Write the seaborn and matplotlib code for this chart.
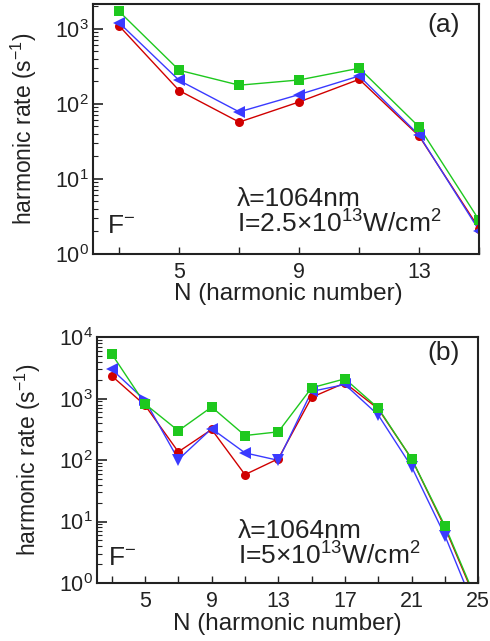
import numpy as np
import pandas as pd
import matplotlib
matplotlib.use("Agg")
import matplotlib.pyplot as plt
import seaborn as sns
from matplotlib.ticker import LogLocator, NullFormatter, FixedLocator

sns.set_theme(style="ticks")
plt.rcParams['font.family'] = ['Liberation Sans', 'DejaVu Sans']
plt.rcParams['mathtext.fontset'] = 'custom'
plt.rcParams['mathtext.rm'] = 'Liberation Sans'
plt.rcParams['mathtext.it'] = 'Liberation Sans:italic'
plt.rcParams['mathtext.bf'] = 'Liberation Sans:bold'

# ---- data: panel (a) ----
N_a = [3, 5, 7, 9, 11, 13, 15]
green_a = [1700, 280, 177, 208, 298, 49, 2.8]
red_a = [1090, 150, 57, 106, 212, 37, 2.17]
blue_a = [1200, 205, 78, 133, 235, 38, 2.04]

# ---- data: panel (b) ----
N_b = [3, 5, 7, 9, 11, 13, 15, 17, 19, 21, 23, 25]
green_b = [5350, 820, 300, 730, 251, 288, 1500, 2100, 700, 105, 8.5, 0.45]
red_b = [2350, 780, 136, 315, 58, 105, 1050, 1800, 680, 105, 8.0, 0.42]
blue_b = [3000, 940, 102, 325, 131, 99, 1310, 1700, 540, 78, 5.9, 0.28]
blue_b_markers = ['<', '>', 'v', '<', '<', 'v', '<', '<', 'v', 'v', 'v', 'v']

GREEN = '#1ec81e'
RED = '#d00000'
BLUE = '#3a3aff'
INK = '#222222'

fig = plt.figure(figsize=(4.9, 6.41), dpi=100)
ax_a = fig.add_axes([0.190, 0.604, 0.788, 0.390])
ax_b = fig.add_axes([0.198, 0.0905, 0.778, 0.3835])


def long_df(N, g, r, b):
    return pd.DataFrame({
        'N': list(N) * 3,
        'rate': list(g) + list(r) + list(b),
        'series': ['g'] * len(N) + ['r'] * len(N) + ['b'] * len(N),
    })


pal = {'g': GREEN, 'r': RED, 'b': BLUE}

for ax, N, g, r, b, xlim, ylim, labels in [
    (ax_a, N_a, green_a, red_a, blue_a, (2.13, 15.0), (1, 2150), [5, 9, 13]),
    (ax_b, N_b, green_b, red_b, blue_b, (2.12, 25.0), (1, 1e4), [5, 9, 13, 17, 21, 25]),
]:
    df = long_df(N, g, r, b)
    sns.lineplot(data=df, x='N', y='rate', hue='series', palette=pal,
                 hue_order=['r', 'b', 'g'], linewidth=1.0, legend=False, ax=ax)
    ax.set_yscale('log')
    ax.plot(N, r, 'o', color=RED, markersize=6.5, markeredgewidth=0)
    if ax is ax_a:
        ax.plot(N, b, '<', color=BLUE, markersize=8.5, markeredgewidth=0)
    else:
        for xi, yi, m in zip(N, b, blue_b_markers):
            ax.plot([xi], [yi], m, color=BLUE, markersize=8.5, markeredgewidth=0)
    ax.plot(N, g, 's', color=GREEN, markersize=6.5, markeredgewidth=0)
    ax.set_xlim(*xlim)
    ax.set_ylim(*ylim)
    odd = list(range(3, int(xlim[1]) + 1, 2))
    ax.xaxis.set_major_locator(FixedLocator(odd))
    ax.set_xticklabels([str(v) if v in labels else '' for v in odd])
    ax.yaxis.set_major_locator(LogLocator(base=10, numticks=10))
    ax.yaxis.set_minor_locator(LogLocator(base=10, subs=np.arange(2, 10), numticks=10))
    ax.yaxis.set_minor_formatter(NullFormatter())
    ax.tick_params(axis='both', which='both', direction='in', top=False, right=False,
                   labelsize=15.5, colors=INK)
    ax.tick_params(axis='y', which='major', length=7, width=1.2, pad=3)
    ax.tick_params(axis='y', which='minor', length=3.5, width=0.8)
    ax.tick_params(axis='x', which='major', length=5, width=1.0, pad=6)
    ax.tick_params(axis='x', which='minor', length=0)
    for sp in ax.spines.values():
        sp.set_visible(True)
        sp.set_linewidth(1.5)
        sp.set_color(INK)
    ax.set_xlabel('N (harmonic number)', fontsize=17.5, color=INK)
    ax.set_ylabel('harmonic rate (s$^{-1}$)', fontsize=16.5, color=INK)

ax_a.xaxis.set_label_coords(0.505, -0.118)
ax_b.xaxis.set_label_coords(0.499, -0.124)
ax_a.yaxis.set_label_coords(-0.140, 0.5)
ax_b.yaxis.set_label_coords(-0.142, 0.5)

ax_a.text(0.373, 0.084, 'λ=1064nm\nI=2.5×10$^{13}$W/cm$^{2}$', transform=ax_a.transAxes,
          fontsize=19, ha='left', va='baseline', color=INK, linespacing=0.98)
ax_a.text(0.036, 0.084, 'F$^{-}$', transform=ax_a.transAxes, fontsize=19,
          ha='left', va='baseline', color=INK)
ax_a.text(0.907, 0.916, '(a)', transform=ax_a.transAxes, fontsize=19,
          ha='center', va='center', color=INK)

ax_b.text(0.37, 0.073, 'λ=1064nm\nI=5×10$^{13}$W/cm$^{2}$', transform=ax_b.transAxes,
          fontsize=19, ha='left', va='baseline', color=INK, linespacing=0.98)
ax_b.text(0.029, 0.073, 'F$^{-}$', transform=ax_b.transAxes, fontsize=19,
          ha='left', va='baseline', color=INK)
ax_b.text(0.908, 0.935, '(b)', transform=ax_b.transAxes, fontsize=19,
          ha='center', va='center', color=INK)

fig.savefig('out.png', dpi=100)
